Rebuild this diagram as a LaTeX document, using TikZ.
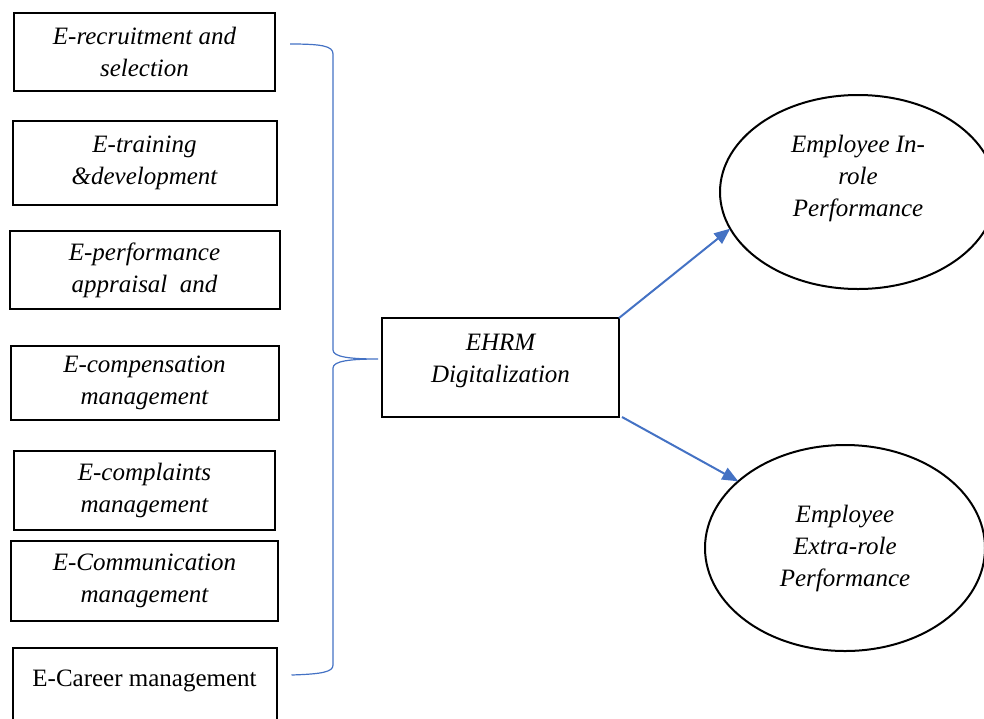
\documentclass[tikz,border=0pt]{standalone}
\usepackage{fontspec}
\setmainfont{Liberation Serif}
\usepackage{xcolor}
\usetikzlibrary{shapes.geometric, arrows.meta, positioning, calc}
\definecolor{linkblue}{HTML}{4472C4}

\begin{document}
\begin{tikzpicture}[
    x=0.5pt, y=-0.5pt,
    font=\fontsize{12.5}{16}\selectfont\itshape,
    box/.style     = {rectangle, draw=black, line width=1pt, align=center,
                      inner sep=2pt, outer sep=0pt},
    outcome/.style = {ellipse, draw=black, line width=1pt, align=center,
                      inner sep=0pt, outer sep=0pt},
    link/.style    = {-{Triangle[length=8pt,width=6.5pt]}, line width=1pt, draw=linkblue, fill=linkblue},
    brace/.style   = {draw=linkblue, line width=0.6pt},
]
\clip (0,0) rectangle (984,718);

% ---- e-HRM practices, stacked on the left ----
\node[box, minimum width=130.5pt, minimum height=39pt] (rec) at (144.5,52) {E-recruitment and\\selection};
\node[box, minimum width=132pt,   minimum height=42pt,   below=15pt of rec]    (train) {E-training\\\&development};
\node[box, minimum width=135pt,   minimum height=39pt,   below=13pt of train]  (perf)  {E-performance\\appraisal\ \ and};
\node[box, minimum width=134pt,   minimum height=37pt,   below=18.5pt of perf] (comp)  {E-compensation\\management};
\node[box, minimum width=130.5pt, minimum height=39.5pt, below=15.5pt of comp] (compl) {E-complaints\\management};
\node[box, minimum width=133.5pt, minimum height=40pt,   below=5.5pt of compl] (comm)  {E-Communication\\management};
\node[box, minimum width=132pt,   minimum height=46pt,   below=13.5pt of comm] (career) {\upshape E-Career management\\\mbox{}};

% ---- mediator ----
\node[box, minimum width=118.5pt, minimum height=49.5pt, text depth=9pt] (ehrm) at (500.5,367.5) {EHRM\\Digitalization};

% ---- outcomes ----
\node[outcome, minimum width=138pt, minimum height=97pt]  (inrole)    at (858,192) {Employee In-\\role\\Performance\\\mbox{}};
\node[outcome, minimum width=140pt, minimum height=103pt] (extrarole) at (845,548) {Employee\\Extra-role\\Performance};

% ---- brace grouping the practices ----
\coordinate (btop) at ($(rec.east)+(15,-8)$);
\coordinate (bbot) at ($(career.east)+(15,-19)$);
\coordinate (btip) at ($(ehrm.west)+(-4,-8.5)$);
\draw[brace] (btop) .. controls (322,44) and (333,46) .. (333,54)
    -- (333,350) .. controls (333,357) and (350,359) .. (btip)
    .. controls (350,359) and (333,361) .. (333,368)
    -- (333,665) .. controls (333,672) and (322,674) .. (bbot);

% ---- paths to the outcomes ----
\draw[link] (ehrm.north east) -- (inrole.196);
\draw[link] ([xshift=1.5pt]ehrm.south east) -- (extrarole.148);

\end{tikzpicture}
\end{document}
